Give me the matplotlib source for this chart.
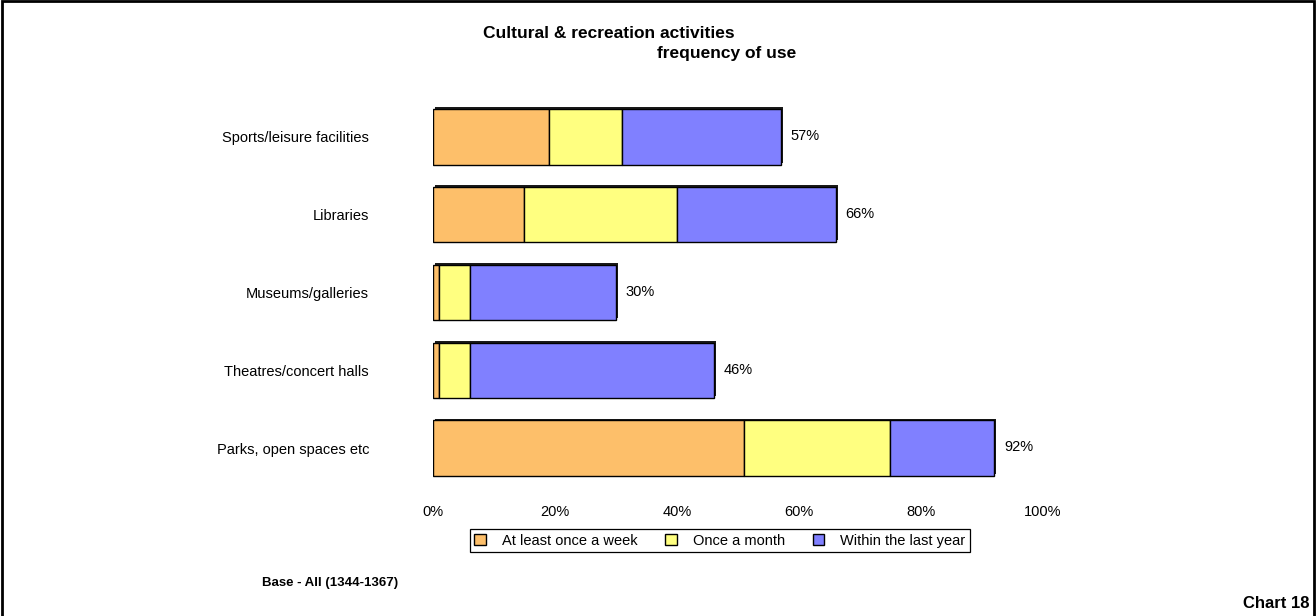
import numpy as np
import matplotlib
matplotlib.use("Agg")
import matplotlib.pyplot as plt
from matplotlib.patches import Rectangle

plt.rc("font", family=["Liberation Sans", "DejaVu Sans"])

# Survey data (% of respondents)
categories = ["Sports/leisure facilities", "Libraries", "Museums/galleries",
              "Theatres/concert halls", "Parks, open spaces etc"]
weekly = [19, 15, 1, 1, 51]
monthly = [12, 25, 5, 5, 24]
yearly = [26, 26, 24, 40, 17]
totals = [57, 66, 30, 46, 92]
series_names = ["At least once a week", "Once a month", "Within the last year"]
colors = ["#FDBF6A", "#FFFF80", "#8080FF"]
xticks = [0, 20, 40, 60, 80, 100]

fig = plt.figure(figsize=(13.16, 6.16), dpi=100)
ax = fig.add_axes([0.329, 0.2094, 0.4635, 0.6315])

y = np.arange(len(categories))
h = 0.71

# dark drop edge behind each bar
ax.barh(y - 0.025, totals, height=h, left=0.35, color="#1a1a1a", zorder=1)

left = np.zeros(len(categories))
for vals, col, name in zip([weekly, monthly, yearly], colors, series_names):
    ax.barh(y, vals, height=h, left=left, color=col, edgecolor="black",
            linewidth=1.0, label=name, zorder=2)
    left += np.array(vals)

for yi, tot in zip(y, totals):
    ax.text(tot + 1.6, yi - 0.01, f"{tot}%", ha="left", va="center",
            fontsize=10.5)

ax.set_xlim(0, 100)
ax.set_ylim(len(categories) - 0.5, -0.5)
ax.set_xticks(xticks)
ax.set_xticklabels([f"{t}%" for t in xticks], fontsize=10.5)
ax.set_yticks(y)
ax.set_yticklabels(categories, fontsize=10.5)
ax.tick_params(axis="x", length=0, pad=13)
ax.tick_params(axis="y", length=0, pad=46)
for s in ax.spines.values():
    s.set_visible(False)

fig.text(0.463, 0.946, "Cultural & recreation activities", ha="center",
         va="center", fontsize=12.5, fontweight="bold")
fig.text(0.552, 0.913, "frequency of use", ha="center", va="center",
         fontsize=12.5, fontweight="bold")

leg = ax.legend(loc="center", bbox_to_anchor=(0.547, 0.122),
                bbox_transform=fig.transFigure, ncol=3, fontsize=10.5,
                frameon=True, fancybox=False, edgecolor="black",
                framealpha=1, handlelength=0.8, handleheight=0.8,
                handletextpad=1.1, columnspacing=1.9, borderpad=0.3)
leg.get_frame().set_linewidth(0.9)

fig.text(0.199, 0.053, "Base - All (1344-1367)", ha="left", va="center",
         fontsize=9.5, fontweight="bold")
fig.text(0.995, 0.02, "Chart 18", ha="right", va="center",
         fontsize=12, fontweight="bold")

# page frame (top, left, right)
fig.patches.append(Rectangle((0.0012, -0.1), 0.9976, 1.098, fill=False,
                             edgecolor="black", linewidth=2,
                             transform=fig.transFigure, figure=fig))

fig.savefig("out.png", dpi=100)
